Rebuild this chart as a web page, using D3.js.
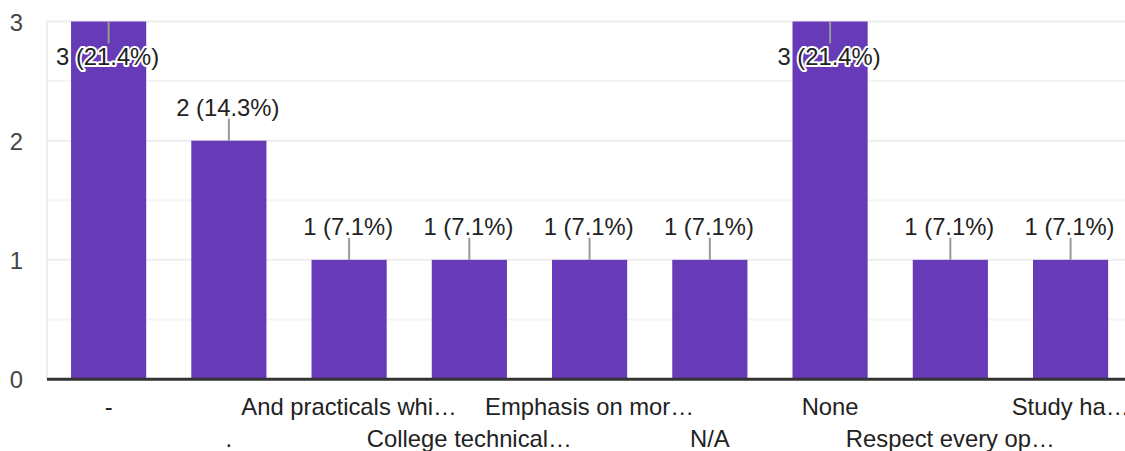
<!DOCTYPE html>
<html>
<head>
<meta charset="utf-8">
<script src="https://cdn.jsdelivr.net/npm/d3@7"></script>
<style>
  html, body { margin: 0; padding: 0; background: #fff; }
  svg { display: block; }
  text { font-family: "Liberation Sans", Arial, sans-serif; }
</style>
</head>
<body>
<svg id="chart" width="1125" height="451"></svg>
<script>
const categories = ["-", ".", "And practicals whi\u2026", "College technical\u2026", "Emphasis on mor\u2026", "N/A", "None", "Respect every op\u2026", "Study ha\u2026"];
const counts = [3, 2, 1, 1, 1, 1, 3, 1, 1];
const yTicks = [0, 1, 2, 3];
const yGrid = [0.5, 1, 1.5, 2, 2.5, 3];

const svg = d3.select("#chart");
const W = 1125, H = 451;
const total = d3.sum(counts);
const fontSize = 23.8;

const x = d3.scaleBand()
  .domain(categories)
  .range([48.5, 1130.7])
  .paddingInner(0.375)
  .paddingOuter(0.1875);

const y = d3.scaleLinear().domain([0, 3]).range([379, 21.5]);

// grid lines
svg.append("g").selectAll("line").data(yGrid).join("line")
  .attr("x1", 47).attr("x2", W)
  .attr("y1", d => y(d)).attr("y2", d => y(d))
  .attr("stroke", d => Number.isInteger(d) ? "#eeeeee" : "#f4f4f4")
  .attr("stroke-width", 2);

// left vertical border
svg.append("line")
  .attr("x1", 47).attr("x2", 47)
  .attr("y1", y(3) - 1).attr("y2", y(0))
  .attr("stroke", "#eeeeee").attr("stroke-width", 2);

// y axis labels
const yAxis = d3.axisLeft(y).tickValues(yTicks).tickSize(0).tickPadding(0).tickFormat(d3.format("d"));
const yg = svg.append("g").attr("transform", "translate(23,0)").call(yAxis);
yg.select(".domain").remove();
yg.selectAll("text")
  .attr("fill", "#444")
  .attr("font-size", fontSize)
  .attr("font-family", "'Liberation Sans', Arial, sans-serif")
  .attr("dy", "0.36em");

// bars
svg.append("g").selectAll("rect").data(categories).join("rect")
  .attr("x", d => x(d))
  .attr("width", x.bandwidth())
  .attr("y", (d, i) => y(counts[i]))
  .attr("height", (d, i) => y(0) - y(counts[i]))
  .attr("fill", "#673ab7");

// baseline
svg.append("line")
  .attr("x1", 47).attr("x2", W)
  .attr("y1", y(0) + 0.3).attr("y2", y(0) + 0.3)
  .attr("stroke", "#333").attr("stroke-width", 3);

// data labels
const pct = d3.format(".1%");
const lbl = svg.append("g");
categories.forEach((c, i) => {
  const v = counts[i];
  const cx = x(c) + x.bandwidth() / 2;
  const top = y(v);
  const inside = top < 70;
  const l1 = inside ? top : top - 22;
  const l2 = inside ? top + 22 : top;
  const base = inside ? top + 43.5 : top - 25;
  lbl.append("line")
    .attr("x1", cx).attr("x2", cx)
    .attr("y1", l1).attr("y2", l2)
    .attr("stroke", "#999").attr("stroke-width", 2);
  lbl.append("text")
    .attr("x", cx - 1).attr("y", base)
    .attr("text-anchor", "middle")
    .attr("font-size", fontSize)
    .attr("fill", "#222")
    .attr("stroke", "#fff").attr("stroke-width", 4)
    .attr("stroke-linejoin", "round")
    .attr("paint-order", "stroke")
    .text(`${v} (${pct(v / total)})`);
});

// x axis labels (two staggered rows)
const xAxis = d3.axisBottom(x).tickSize(0).tickPadding(0);
const xg = svg.append("g").attr("transform", `translate(0,${y(0)})`).call(xAxis);
xg.select(".domain").remove();
xg.selectAll("text")
  .attr("fill", "#222")
  .attr("font-size", fontSize)
  .attr("font-family", "'Liberation Sans', Arial, sans-serif")
  .attr("dy", null)
  .attr("y", (d, i) => i % 2 === 0 ? 36 : 68);
</script>
</body>
</html>
